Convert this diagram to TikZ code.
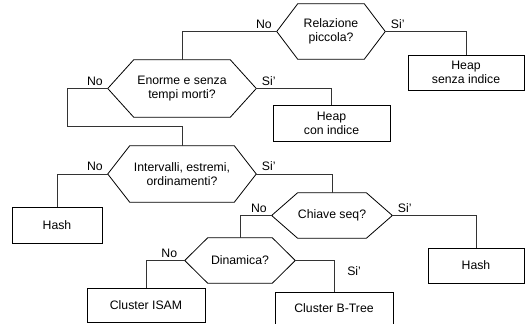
\documentclass[tikz,border=0pt]{standalone}
\usepackage{fontspec}
\setmainfont{Liberation Sans}
\newcommand{\hexag}[2]{%
  \draw[hexline] (#1.north west) -- (#1.north east) -- ([xshift={#2*0.75pt}]#1.east) -- (#1.south east) -- (#1.south west) -- ([xshift={-#2*0.75pt}]#1.west) -- cycle;
  \coordinate (#1L) at ([xshift={-#2*0.75pt}]#1.west);
  \coordinate (#1R) at ([xshift={#2*0.75pt}]#1.east);}
\begin{document}
\begin{tikzpicture}[x=0.75pt,y=-0.75pt,
  every node/.style={font=\fontsize{9.2}{10.4}\selectfont, inner sep=0pt},
  qtext/.style 2 args={align=center, minimum width={#1*0.75pt}, minimum height={#2*0.75pt}},
  box/.style 2 args={draw, line width=0.6pt, align=center, minimum width={#1*0.75pt}, minimum height={#2*0.75pt}},
  hexline/.style={line width=0.6pt},
  conn/.style={line width=0.6pt, draw=black!80},
  labno/.style={anchor=south east, xshift=-3.5pt, yshift=2pt},
  labsi/.style={anchor=south west, xshift=4pt, yshift=2pt}
]
\useasboundingbox (0,0) rectangle (528,324);

% questions
\node[qtext={66}{55}] (q1) at (331,31.5) {Relazione\\piccola?};
\hexag{q1}{21}
\node[qtext={96}{57}] (q2) at (182,88.5) {Enorme e senza\\tempi morti?};
\hexag{q2}{26}
\node[qtext={104}{56}] (q3) at (182,174) {Intervalli, estremi,\\ordinamenti?};
\hexag{q3}{22}
\node[qtext={58}{45}] (q4) at (332,215.5) {Chiave seq?};
\hexag{q4}{26}
\node[qtext={64}{45}] (q5) at (240,260.5) {Dinamica?};
\hexag{q5}{23}

% outcomes
\node[box={116}{35}] (b1) at (466,72.5) {Heap\\senza indice};
\node[box={117}{36}] (b2) at (331.5,123) {Heap\\con indice};
\node[box={90}{36}] (b3) at (57,225) {Hash};
\node[box={96}{35}] (b4) at (476,265.5) {Hash};
\node[box={118}{34}] (b5) at (146,305) {Cluster ISAM};
\node[box={118}{32}] (b6) at (334,308) {Cluster B-Tree};

% connectors
\coordinate (c1) at (67,126);
\draw[conn] (q1L) -| (q2.north);
\draw[conn] (q1R) -| (b1.north);
\draw[conn] (q2L) -| (c1) -| (q3.north);
\draw[conn] (q2R) -| (b2.north);
\draw[conn] (q3L) -| (b3.north);
\draw[conn] (q3R) -| (q4.north);
\draw[conn] (q4L) -| (q5.north);
\draw[conn] (q4R) -| (b4.north);
\draw[conn] (q5L) -| (b5.north);
\draw[conn] (q5R) -| (b6.north);

% labels
\node[labno] (l1n) at (q1L) {No};
\node[labsi] (l1s) at (q1R) {Si'};
\node[labno] (l2n) at (q2L) {No};
\node[labsi] (l2s) at (q2R) {Si'};
\node[labno] (l3n) at (q3L) {No};
\node[labsi] (l3s) at (q3R) {Si'};
\node[labno] (l4n) at (q4L) {No};
\node[labsi] (l4s) at (q4R) {Si'};
\node[labno, xshift=-2pt] (l5n) at (q5L) {No};
\node[anchor=north west] (l5s) at (347,266) {Si'};
\end{tikzpicture}
\end{document}
